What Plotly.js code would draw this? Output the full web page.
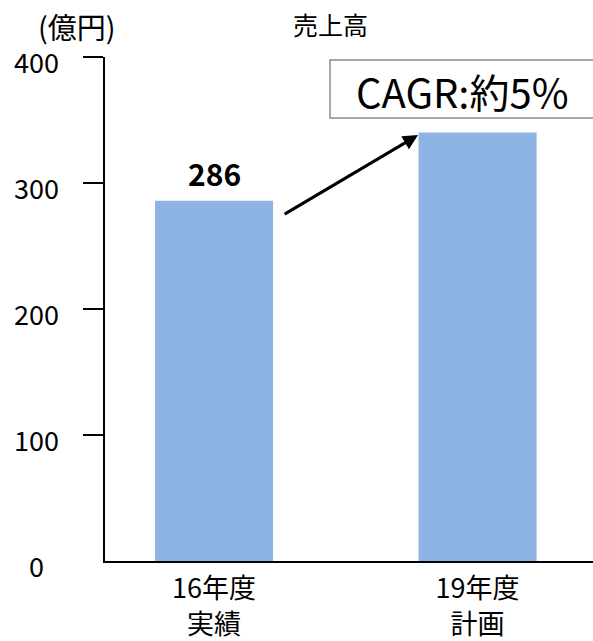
<!DOCTYPE html>
<html>
<head>
<meta charset="utf-8">
<script src="https://cdn.plot.ly/plotly-3.0.1.min.js"></script>
<style>
  html, body { margin: 0; padding: 0; background: #fff; }
  #chart { width: 593px; height: 641px; }
</style>
</head>
<body>
<div id="chart"></div>
<script>
// 売上高: 16年度実績と19年度計画
const categories = ['16年度<br>実績', '19年度<br>計画'];
const sales = [286, 340];
const valueLabels = ['286', ''];
const yTickVals = [0, 100, 200, 300, 400];
const yTickText = ['0', '100', '200', '300', '400'];
const unitLabel = '(億円)';
const chartTitle = '売上高';
const cagrText = 'CAGR:約5%';

const FONT = '"Noto Sans CJK JP", "Noto Sans", sans-serif';
const BAR_COLOR = '#8EB4E3';

const annotations = [];

// y-axis labels, centred in the left margin
yTickVals.forEach((v, i) => {
  annotations.push({
    xref: 'paper', yref: 'y', x: 0, y: v,
    xshift: -69, yshift: -4,
    xanchor: 'center', yanchor: 'middle',
    text: yTickText[i], showarrow: false,
    font: { family: FONT, size: 27, color: '#000' }
  });
});

// value labels above bars
sales.forEach((v, i) => {
  if (!valueLabels[i]) return;
  annotations.push({
    xref: 'x', yref: 'y', x: i, y: v,
    yshift: 4, xanchor: 'center', yanchor: 'bottom',
    text: '<b>' + valueLabels[i] + '</b>', showarrow: false,
    font: { family: FONT, size: 30, color: '#000' }
  });
});

// unit and title
annotations.push({
  xref: 'paper', yref: 'paper', x: 0, y: 1, xshift: -28, yshift: 31,
  xanchor: 'center', yanchor: 'middle', text: unitLabel, showarrow: false,
  font: { family: FONT, size: 29, color: '#000' }
});
annotations.push({
  xref: 'paper', yref: 'paper', x: 0.463, y: 1, yshift: 33,
  xanchor: 'center', yanchor: 'middle', text: chartTitle, showarrow: false,
  font: { family: FONT, size: 25, color: '#000' }
});

// CAGR callout text
annotations.push({
  xref: 'paper', yref: 'paper', x: 0.732, y: 0.9325,
  xanchor: 'center', yanchor: 'middle', text: cagrText, showarrow: false,
  font: { family: FONT, size: 40, color: '#000' }
});

// growth arrow between the two bars
annotations.push({
  xref: 'x', yref: 'y', x: 0.774, y: 338,
  axref: 'x', ayref: 'y', ax: 0.262, ay: 274.6,
  text: '', showarrow: true, arrowhead: 2, arrowsize: 1, arrowwidth: 3,
  arrowcolor: '#000'
});

const data = [{
  type: 'bar',
  x: categories,
  y: sales,
  width: 0.448,
  marker: { color: BAR_COLOR },
  hoverinfo: 'none'
}];

const layout = {
  width: 593, height: 641,
  margin: { l: 105, r: 0, t: 57, b: 80, pad: 0 },
  paper_bgcolor: '#fff', plot_bgcolor: '#fff',
  showlegend: false,
  font: { family: FONT, color: '#000' },
  xaxis: {
    type: 'category',
    range: [-0.414, 1.438],
    showline: true, linecolor: '#000', linewidth: 2,
    showgrid: false, zeroline: false,
    ticks: '', tickfont: { family: FONT, size: 27, color: '#000' },
    ticklabelstandoff: 3
  },
  yaxis: {
    range: [0, 400],
    showline: true, linecolor: '#000', linewidth: 2,
    showgrid: false, zeroline: false,
    ticks: 'outside', ticklen: 20, tickwidth: 2, tickcolor: '#000',
    tickmode: 'array', tickvals: [100, 200, 300, 400],
    showticklabels: false
  },
  shapes: [{
    type: 'rect', xref: 'paper', yref: 'paper',
    x0: 0.461, x1: 1.05, y0: 0.879, y1: 0.994,
    line: { color: '#8c8c8c', width: 1.5 },
    fillcolor: 'rgba(0,0,0,0)'
  }],
  annotations: annotations
};

Plotly.newPlot('chart', data, layout, { staticPlot: true, displayModeBar: false });
</script>
</body>
</html>
